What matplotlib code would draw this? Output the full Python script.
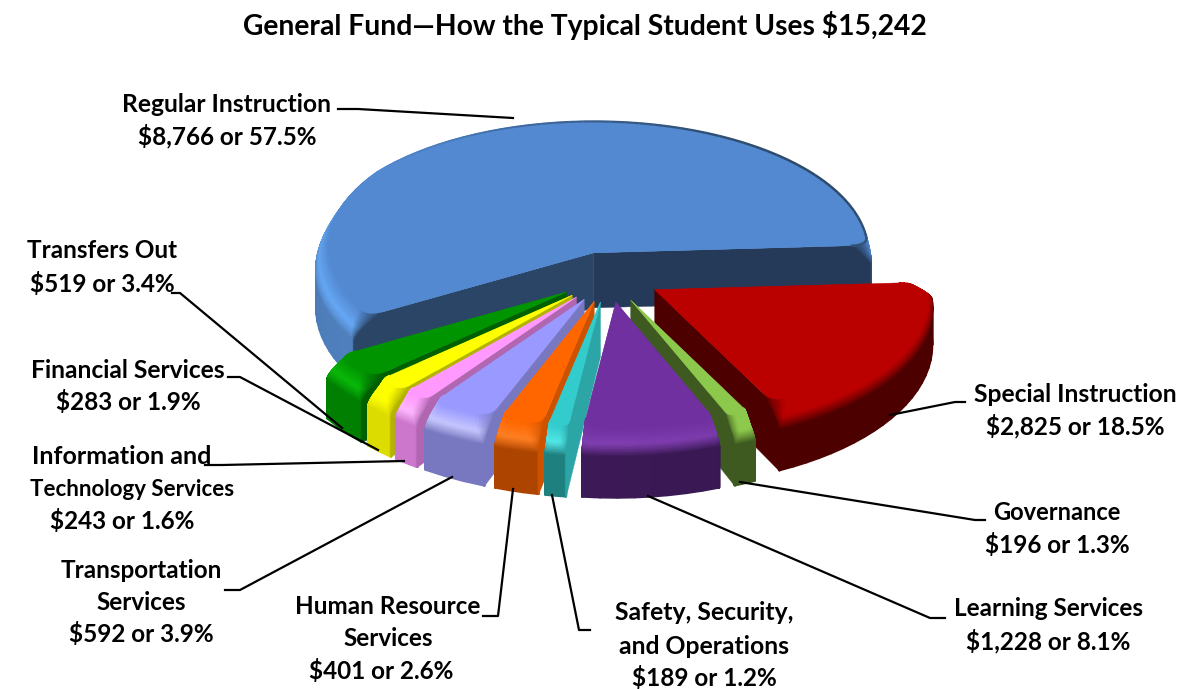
import numpy as np
import matplotlib
matplotlib.use("Agg")
import matplotlib.pyplot as plt
from matplotlib.collections import LineCollection, PolyCollection
from matplotlib.colors import to_rgb
from matplotlib.patches import Polygon

# ---------------------------------------------------------------------------
# Data
# ---------------------------------------------------------------------------
TITLE = "General Fund\u2014How the Typical Student Uses $15,242"

categories = ["Regular Instruction", "Transfers Out", "Financial Services",
              "Information and Technology Services", "Transportation Services",
              "Human Resource Services", "Safety, Security, and Operations",
              "Learning Services", "Governance", "Special Instruction"]
dollars = [8766, 519, 283, 243, 592, 401, 189, 1228, 196, 2825]

# ---------------------------------------------------------------------------
# Style: top, highlight, side lit, side unlit, cut face (first edge), cut face (second edge)
# ---------------------------------------------------------------------------
slice_colors = [
    ("#5389d1", "#66a8f5", "#4f80bd", "#2d4a6b", "#243a58", "#2a4565"),
    ("#009400", "#0ab80a", "#007f00", "#007f00", "#005f00", "#005f00"),
    ("#ffff00", "#ffff00", "#dcdc00", "#dcdc00", "#b3b300", "#b3b300"),
    ("#ff99ff", "#ffb8ff", "#cc77cc", "#cc77cc", "#b066b0", "#b066b0"),
    ("#9999ff", "#c8c8ff", "#7878c0", "#7878c0", "#7878c0", "#7878c0"),
    ("#ff6600", "#ff8226", "#ad4500", "#ad4500", "#cc5200", "#cc5200"),
    ("#33cccc", "#58ecec", "#1f8080", "#1f8080", "#2ba5a5", "#2ba5a5"),
    ("#7030a0", "#8442b4", "#3f1a5a", "#2d1445", "#3f1a5a", "#3f1a5a"),
    ("#8cc84b", "#90cc50", "#3f5a20", "#3f5a20", "#3f5a20", "#3f5a20"),
    ("#bb0000", "#bb0000", "#4d0000", "#4d0000", "#4d0000", "#4d0000"),
]
DRAW_ORDER = [0, 9, 1, 2, 3, 4, 5, 6, 8, 7]  # back to front

W, H = 1188, 689
CX, CY = 609, 277      # pie centre, pixels
RX, RY = 278, 133      # unit radius, pixels
EXPLODE = 0.19
START = 3.3
R_TOP = 0.94           # flat top stops here, bevel goes out to 1
BEVEL = 0.33           # share of the depth used by the bevel
CORNER = 0.055
LIGHT = 215


def depth(theta):
    # perspective: the near rim looks a bit deeper than the far one
    return (55 + 8 * np.maximum(0, -np.sin(np.radians(theta)))) / RY


def mix(a, b, t):
    return a + (b - a) * t


def layer_radius(fr):
    f = min(fr / BEVEL, 1)
    return R_TOP + (1 - R_TOP) * np.sin(f * np.pi / 2)


def unit(deg):
    return np.array([np.cos(np.radians(deg)), np.sin(np.radians(deg))])


def flatten(theta):
    # the bevel nearly vanishes on the far rim of the big slice
    if theta < 0 or theta > 190:
        return 0.0
    return min((190 - theta) / 60, 0.8)


def rim_points(t1, t2, fr):
    """Outer edge of a slice at depth share fr: x, y, shade angle, corner blend, corner size."""
    r = layer_radius(fr)
    span = t2 - t1
    k = CORNER * max(1 - fr / BEVEL, 0) + 0.004
    da = min(np.degrees(k / r), span * 0.35)
    k = min(k, np.radians(da) * r * 1.2)
    pts, norm, blend = [], [], []
    for u in np.linspace(0, 1, 8):
        pts.append((1 - u) ** 2 * (r - k) * unit(t1) + 2 * u * (1 - u) * r * unit(t1) + u ** 2 * r * unit(t1 + da))
        norm.append(t1 + da * u)
        blend.append(-(1 - u))
    n_arc = max(4, int(span / 3))
    for th in np.linspace(t1 + da, t2 - da, n_arc)[1:-1]:
        pts.append(r * unit(th))
        norm.append(th)
        blend.append(0)
    for u in np.linspace(0, 1, 8):
        pts.append((1 - u) ** 2 * r * unit(t2 - da) + 2 * u * (1 - u) * r * unit(t2) + u ** 2 * (r - k) * unit(t2))
        norm.append(t2 - da + da * u)
        blend.append(u)
    pts = np.array(pts)
    norm = np.array(norm)
    g = np.array([flatten(th) for th in norm])
    pts = pts * ((r + (1 - r) * g) / r)[:, None]
    return pts[:, 0], pts[:, 1], norm, np.array(blend), k


def rim_color(cols, theta, fr):
    top, hi, lit, unlit = [np.array(to_rgb(c)) for c in cols[:4]]
    w = 0.5 + 0.5 * np.cos(np.radians(theta - LIGHT))
    high = mix(top, hi, w)
    side = mix(unlit, lit, w)
    f = fr / BEVEL
    if f < 0.5:
        return mix(top, high, f / 0.5)
    if f < 1:
        return mix(high, side, (f - 0.5) / 0.5)
    return side


# ---------------------------------------------------------------------------
# Pie
# ---------------------------------------------------------------------------
fig = plt.figure(figsize=(W / 100, H / 100), dpi=100, facecolor="white")
ax = fig.add_axes([0, 0, 1, 1])

# the wedges give angles and exploded centres, the rest of the solid is built on them
wedges, _ = ax.pie(dollars, explode=[EXPLODE] * len(dollars), startangle=START,
                   radius=0.75, colors=[c[0] for c in slice_colors],
                   wedgeprops={"linewidth": 0})
ax.set_aspect("auto")
ax.set_xlim((0 - CX) / RX, (W - CX) / RX)
ax.set_ylim((CY - H) / RY, CY / RY)
ax.axis("off")

# fine steps through the bevel, one long step down the plain side
layers = np.append(np.linspace(0, BEVEL, 17), 1.0)

for order, i in enumerate(DRAW_ORDER):
    wedge = wedges[i]
    cols = slice_colors[i]
    t1, t2 = wedge.theta1, wedge.theta2
    x0, y0 = wedge.center
    z = 10 + order * 10

    show1 = np.sin(np.radians(t1 - 90)) < 0
    show2 = np.sin(np.radians(t2 + 90)) < 0

    # rim strips, bottom layer first
    quads, face = [], []
    for a, b in zip(layers[::-1][:-1], layers[::-1][1:]):
        xa, ya, norm, blend, _ = rim_points(t1, t2, a)
        xb, yb, _, _, _ = rim_points(t1, t2, b)
        da_ = depth(norm) * a
        db_ = depth(norm) * b
        for j in range(len(xa) - 1):
            quads.append([(x0 + xa[j], y0 + ya[j] - da_[j]),
                          (x0 + xa[j + 1], y0 + ya[j + 1] - da_[j + 1]),
                          (x0 + xb[j + 1], y0 + yb[j + 1] - db_[j + 1]),
                          (x0 + xb[j], y0 + yb[j] - db_[j])])
            c = rim_color(cols, norm[j], (a + b) / 2)
            bl = (blend[j] + blend[j + 1]) / 2
            if bl < 0 and show1:
                c = mix(c, np.array(to_rgb(cols[4])), -bl)
            if bl > 0 and show2:
                c = mix(c, np.array(to_rgb(cols[5])), bl)
            face.append(c)
    ax.add_collection(PolyCollection(quads, facecolors=face, edgecolors=face, linewidths=1.0, zorder=z))

    # cut faces
    for show, th, col in [(show1, t1, cols[4]), (show2, t2, cols[5])]:
        if not show:
            continue
        ux, uy = unit(th)
        d0 = 55 / RY
        pts = [(x0, y0)]
        for fr in np.linspace(0, BEVEL, 8):
            k = rim_points(t1, t2, fr)[4]
            r = layer_radius(fr)
            r = r + (1 - r) * flatten(th) - k
            pts.append((x0 + r * ux, y0 + r * uy - d0 * fr))
        r = 1 - rim_points(t1, t2, 1.0)[4]
        pts.append((x0 + r * ux, y0 + r * uy - depth(th)))
        pts.append((x0, y0 - d0))
        ax.add_patch(Polygon(pts, closed=True, facecolor=col, edgecolor=col, lw=0.3, zorder=z + 1))

    # flat top
    xt, yt, norm, _, _ = rim_points(t1, t2, 0.0)
    top_pts = [(x0, y0)] + [(x0 + a, y0 + b) for a, b in zip(xt, yt)]
    ax.add_patch(Polygon(top_pts, closed=True, facecolor=cols[0], edgecolor=cols[0], lw=0.3, zorder=z + 2))
    wedge.set_zorder(z + 3)

    # thin darker edge along the far rim of the big slice
    segs, seg_col, seg_w = [], [], []
    for j in range(len(xt) - 1):
        if norm[j] < 190 and np.sin(np.radians(norm[j])) > 0.02:
            segs.append([(x0 + xt[j], y0 + yt[j]), (x0 + xt[j + 1], y0 + yt[j + 1])])
            w = 0.5 + 0.5 * np.cos(np.radians(norm[j] - LIGHT))
            seg_col.append(mix(np.array(to_rgb(cols[3])), np.array(to_rgb(cols[0])), min(1, w * 1.6)))
            seg_w.append(0.6 + 1.2 * (1 - w))
    if segs:
        ax.add_collection(LineCollection(segs, colors=seg_col, linewidths=seg_w, zorder=z + 4))

# ---------------------------------------------------------------------------
# Labels and leader lines, in pixel coordinates
# ---------------------------------------------------------------------------
over = fig.add_axes([0, 0, 1, 1], facecolor="none")
over.set_xlim(0, W)
over.set_ylim(H, 0)
over.axis("off")

LABEL_FONT = ["Lato", "DejaVu Sans"]
over.text(585, 26, TITLE, ha="center", va="center", fontsize=20.3, fontweight="bold", family=LABEL_FONT)

label_lines = [
    ("Regular Instruction", 227, 104, 17.7), ("$8,766 or 57.5%", 227, 136, 17.5),
    ("Transfers Out", 102, 251, 17.5), ("$519 or 3.4%", 102, 284, 17.5),
    ("Financial Services", 128, 371, 17.7), ("$283 or 1.9%", 128, 402, 17.5),
    ("Information and", 122, 457, 18), ("Technology Services", 132, 489, 16), ("$243 or 1.6%", 122, 521, 17.5),
    ("Transportation", 141, 570, 17.5), ("Services", 141, 602, 17.5), ("$592 or 3.9%", 141, 634, 17.5),
    ("Human Resource", 388, 607, 17.5), ("Services", 388, 639, 17.5), ("$401 or 2.6%", 381, 671, 17.5),
    ("Safety, Security,", 704, 613, 17.8), ("and Operations", 704, 646, 17.8), ("$189 or 1.2%", 704, 678, 17.5),
    ("Learning Services", 1048, 609, 17.5), ("$1,228 or 8.1%", 1048, 641, 17.5),
    ("Governance", 1057, 513, 17), ("$196 or 1.3%", 1057, 545, 17.5),
    ("Special Instruction", 1075, 394, 17.7), ("$2,825 or 18.5%", 1075, 426, 17.5),
]
for text, x, y, size in label_lines:
    over.text(x, y, text, ha="center", va="center", fontsize=size, fontweight="bold", family=LABEL_FONT)

leaders = [
    [(338, 109), (358, 109), (513, 118)],
    [(172, 293), (180, 293), (342, 428)],
    [(228, 377), (240, 377), (378, 450)],
    [(205, 465), (222, 465), (404, 461)],
    [(225, 590), (240, 590), (452, 477)],
    [(483, 616), (498, 616), (513, 489)],
    [(552, 495), (579, 630), (590, 630)],
    [(648, 496), (930, 618), (945, 618)],
    [(740, 482), (975, 520), (985, 520)],
    [(890, 415), (955, 402), (965, 402)],
]
for pts in leaders:
    xs, ys = zip(*pts)
    over.plot(xs, ys, color="black", lw=1.6, zorder=5)

fig.savefig("out.png", dpi=100)
